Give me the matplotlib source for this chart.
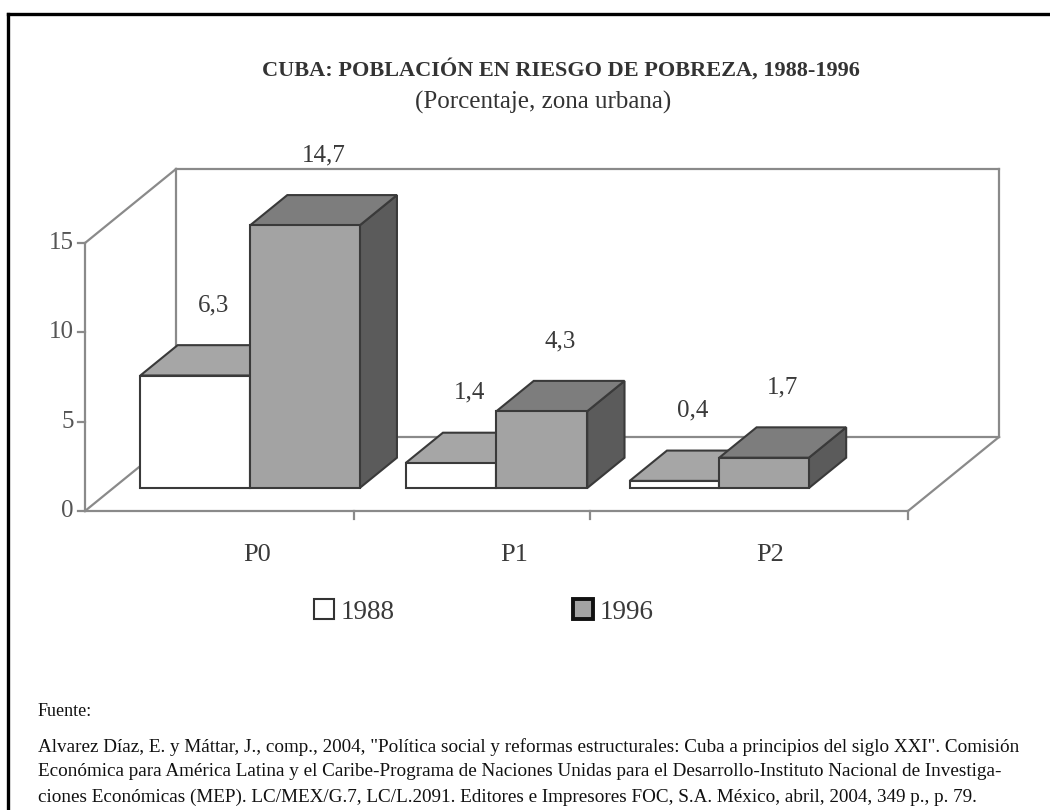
import matplotlib

matplotlib.use("Agg")
import matplotlib.pyplot as plt
from matplotlib.lines import Line2D
from matplotlib.patches import Patch, Polygon

categories = ["P0", "P1", "P2"]
series_names = ["1988", "1996"]
values_1988 = [6.3, 1.4, 0.4]
values_1996 = [14.7, 4.3, 1.7]
y_ticks = [0, 5, 10, 15]

title = "CUBA: POBLACIÓN EN RIESGO DE POBREZA, 1988-1996"
subtitle = "(Porcentaje, zona urbana)"
source_head = "Fuente:"
source_lines = [
    'Alvarez Díaz, E. y Máttar, J., comp., 2004, "Política social y reformas estructurales: '
    'Cuba a principios del siglo XXI". Comisión',
    "Económica para América Latina y el Caribe-Programa de Naciones Unidas para el "
    "Desarrollo-Instituto Nacional de Investiga-",
    "ciones Económicas (MEP). LC/MEX/G.7, LC/L.2091. Editores e Impresores FOC, S.A. "
    "México, abril, 2004, 349 p., p. 79.",
]

# front, top, side face colours per series
_FACES = {
    "1988": ("#ffffff", "#a6a6a6", "#7a7a7a"),
    "1996": ("#a3a3a3", "#7d7d7d", "#5b5b5b"),
}
_EDGE = "#3a3a3a"
_WALL = "#8a8a8a"
_TEXT = "#3a3a3a"

# the old 3-D chart uses a bit of perspective: groups get narrower to the right
_GROUP_X = [0.0, 1.045, 1.99]
_BAR_W = [0.465, 0.385, 0.38]

W, H = 1050, 810
plt.rcParams["font.family"] = ["Liberation Serif", "DejaVu Serif"]

fig = plt.figure(figsize=(W / 100, H / 100), dpi=100)
ax = fig.add_axes([85 / W, 1 - 511 / H, (908 - 85) / W, (511 - 243) / H])
ax.set_xlim(-0.58, 2.91)
ax.set_ylim(0, 15)
ax.axis("off")

x0, x1 = ax.get_xlim()
y0, y1 = ax.get_ylim()
box = ax.get_position()
sx = box.width * W / (x1 - x0)  # pixels per x unit
sy = box.height * H / (y1 - y0)  # pixels per y unit
DX, DY = 91 / sx, 74 / sy  # depth of the floor, in data units
F0, F1 = 0.31, 0.72  # bar front / back as fraction of the depth
FM = (F0 + F1) / 2


def seg(p, q, **kw):
    ax.add_line(Line2D([p[0], q[0]], [p[1], q[1]], color=_WALL, lw=1.6,
                       clip_on=False, zorder=1, **kw))


# walls and floor
seg((x0, y0), (x0, y1))
seg((x0, y1), (x0 + DX, y1 + DY))
seg((x0, y0), (x0 + DX, y0 + DY))
seg((x0 + DX, y0 + DY), (x0 + DX, y1 + DY))
seg((x0 + DX, y1 + DY), (x1 + DX, y1 + DY))
seg((x1 + DX, y0 + DY), (x1 + DX, y1 + DY))
seg((x0 + DX, y0 + DY), (x1 + DX, y0 + DY))
seg((x0, y0), (x1, y0))
seg((x1, y0), (x1 + DX, y0 + DY))

# value axis ticks
for t in y_ticks:
    seg((x0 - 7 / sx, t), (x0, t))
    ax.text(x0 - 11 / sx, t, str(t), ha="right", va="center", fontsize=18,
            color="#555555")

# category boundary ticks on the front floor edge
for b in [i + 0.56 for i in range(len(categories) - 1)] + [x1]:
    seg((b, y0), (b, y0 - 8 / sy))

# bars
for i, cat in enumerate(categories):
    bw = _BAR_W[i]
    for j, (name, vals) in enumerate(zip(series_names, [values_1988, values_1996])):
        v = vals[i]
        front, top, side = _FACES[name]
        xl = _GROUP_X[i] - bw + j * bw
        xr = xl + bw
        fx, fy = F0 * DX, F0 * DY
        bx, by = F1 * DX, F1 * DY
        faces = [
            ([(xr + fx, fy), (xr + bx, by), (xr + bx, v + by), (xr + fx, v + fy)], side),
            ([(xl + fx, v + fy), (xr + fx, v + fy), (xr + bx, v + by), (xl + bx, v + by)], top),
            ([(xl + fx, fy), (xr + fx, fy), (xr + fx, v + fy), (xl + fx, v + fy)], front),
        ]
        for pts, col in faces:
            ax.add_patch(Polygon(pts, closed=True, facecolor=col, edgecolor=_EDGE,
                                 lw=1.5, joinstyle="miter", clip_on=False, zorder=3 + i))
        ax.annotate(f"{v:.1f}".replace(".", ","),
                    xy=((xl + xr) / 2 + FM * DX, v + FM * DY),
                    xytext=(0, 55), textcoords="offset pixels",
                    ha="center", va="center", fontsize=18, color=_TEXT,
                    annotation_clip=False, zorder=10)

# category labels below the floor
for i, cat in enumerate(categories):
    ax.annotate(cat, xy=(0.15 + 1.088 * i, y0), xytext=(0, -44),
                textcoords="offset pixels", ha="center", va="center",
                fontsize=19, color=_TEXT, annotation_clip=False)

handles = [
    Patch(facecolor=_FACES["1988"][0], edgecolor="#333333", lw=1.5),
    Patch(facecolor=_FACES["1996"][0], edgecolor="#111111", lw=2.8),
]
fig.legend(handles, series_names, loc="center", ncol=2, frameon=False,
           bbox_to_anchor=(484 / W, 1 - 612 / H), fontsize=19.5,
           handlelength=0.72, handleheight=0.72, handletextpad=0.25,
           columnspacing=6.6, borderpad=0, labelcolor=_TEXT)

fig.text(561 / W, 1 - 70 / H, title, ha="center", va="center", fontsize=16,
         fontweight="bold", color="#333333")
fig.text(543 / W, 1 - 102 / H, subtitle, ha="center", va="center", fontsize=18,
         color="#333333")

fig.text(38 / W, 1 - 712 / H, source_head, ha="left", va="center", fontsize=13,
         color="#111111")
for k, line in enumerate(source_lines):
    fig.text(38 / W, 1 - (747 + 25 * k) / H, line, ha="left", va="center",
             fontsize=13.8, color="#111111")

# frame of the page (only top and left edges are inside the picture)
fig.add_artist(Line2D([8 / W, 1], [1 - 14 / H, 1 - 14 / H], color="black", lw=2.4,
                      transform=fig.transFigure))
fig.add_artist(Line2D([8 / W, 8 / W], [0, 1 - 14 / H], color="black", lw=2.4,
                      transform=fig.transFigure))

fig.savefig("out.png", dpi=100, facecolor="white")
